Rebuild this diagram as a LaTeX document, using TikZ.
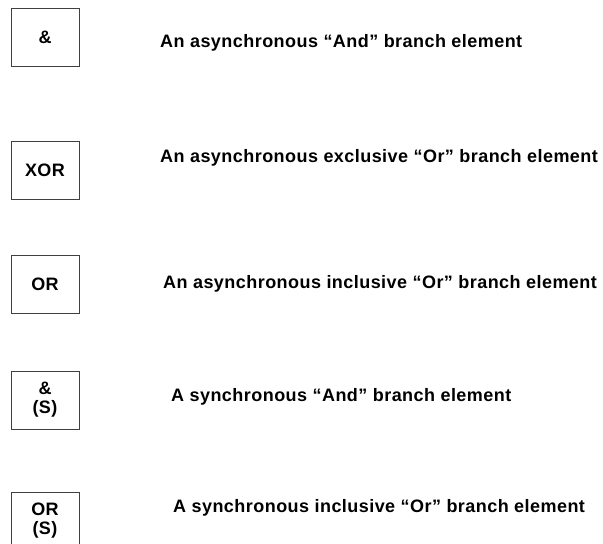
\documentclass[tikz,border=0pt]{standalone}
\usepackage{fontspec}
\setmainfont{Liberation Sans}[LetterSpace=2.5]
\usetikzlibrary{positioning}
\tikzset{
  branch box/.style={
    draw=black!75, line width=1pt, minimum width=68pt, minimum height=58pt,
    align=center, inner sep=0pt, font=\fontsize{18}{19}\selectfont\bfseries
  },
  branch text/.style={
    anchor=west, inner sep=0pt, font=\fontsize{18}{19}\selectfont\bfseries
  }
}

\begin{document}
\begin{tikzpicture}[x=1pt, y=-1pt]
  \useasboundingbox (0,0) rectangle (603,544);
  \clip (0,0) rectangle (603,544);

  % Branch element symbols
  \node[branch box] (andbox) at (45,37) {\&};
  \node[branch box] (xorbox) at (45,170) {XOR};
  \node[branch box] (orbox) at (45,284) {OR};
  \node[branch box] (sandbox) at (45,400) {\&\\(S)};
  \node[branch box] (sorbox) at (45,521) {OR\\(S)};

  % Descriptions
  \node[branch text] (andtext) at (160,43) {An asynchronous “And” branch element};
  \node[branch text] (xortext) at (160,158) {An asynchronous exclusive “Or” branch element};
  \node[branch text] (ortext) at (163,284) {An asynchronous inclusive “Or” branch element};
  \node[branch text] (sandtext) at (171,397) {A synchronous “And” branch element};
  \node[branch text] (sortext) at (173,508) {A synchronous inclusive “Or” branch element};
\end{tikzpicture}
\end{document}
